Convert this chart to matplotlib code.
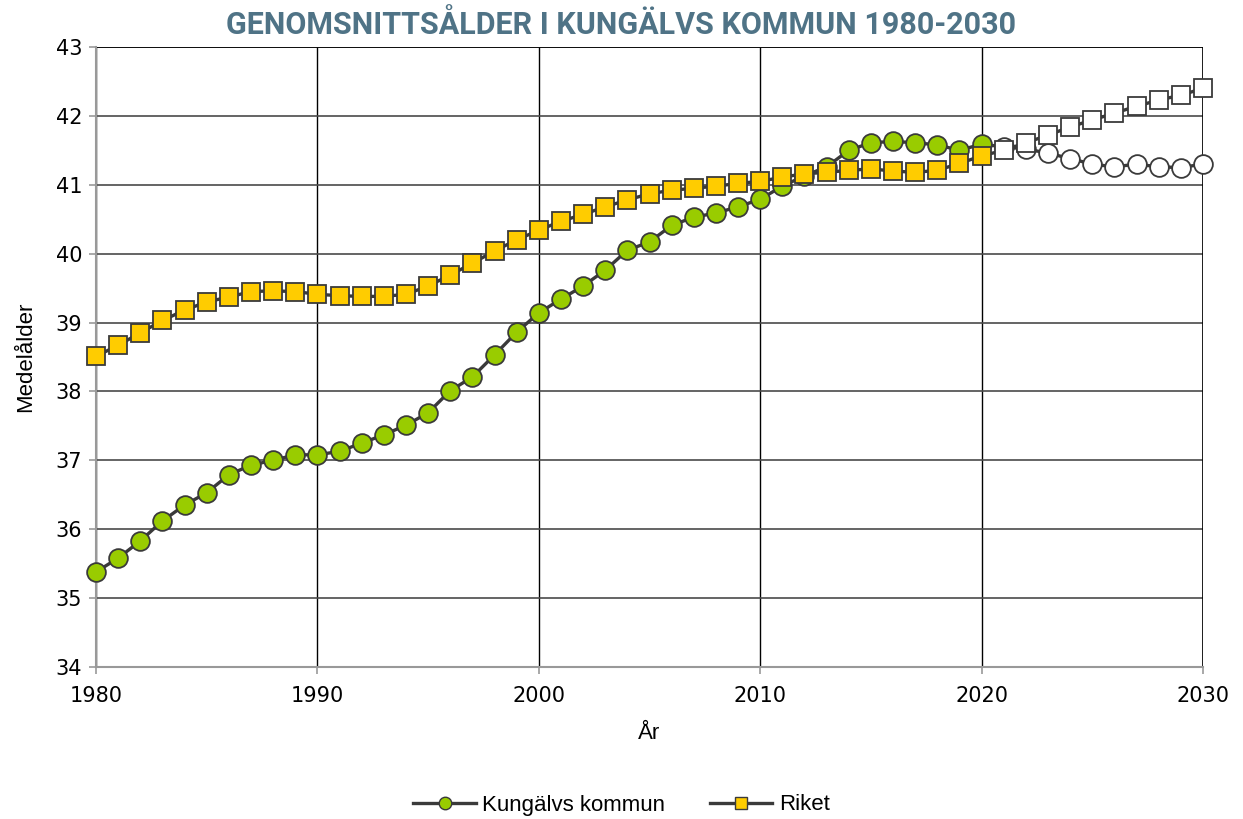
import matplotlib
matplotlib.use("Agg")
import matplotlib.pyplot as plt
from matplotlib.lines import Line2D
import numpy as np

years = list(range(1980, 2031))
last_actual = 2020

kungalv = [35.38, 35.58, 35.83, 36.12, 36.35, 36.53, 36.79, 36.93, 37.00, 37.08,
           37.08, 37.13, 37.25, 37.37, 37.51, 37.69, 38.01, 38.21, 38.53, 38.86,
           39.14, 39.34, 39.53, 39.76, 40.05, 40.17, 40.41, 40.53, 40.59, 40.68,
           40.79, 40.98, 41.13, 41.26, 41.50, 41.61, 41.63, 41.61, 41.58, 41.50,
           41.59, 41.55, 41.52, 41.46, 41.38, 41.30, 41.26, 41.30, 41.26, 41.25,
           41.30]
riket = [38.51, 38.67, 38.85, 39.03, 39.18, 39.30, 39.37, 39.45, 39.46, 39.45,
         39.41, 39.39, 39.38, 39.38, 39.41, 39.53, 39.69, 39.86, 40.04, 40.20,
         40.34, 40.47, 40.57, 40.68, 40.78, 40.87, 40.92, 40.95, 40.98, 41.02,
         41.05, 41.11, 41.16, 41.18, 41.21, 41.23, 41.20, 41.18, 41.21, 41.31,
         41.42, 41.50, 41.61, 41.72, 41.84, 41.94, 42.04, 42.14, 42.23, 42.30,
         42.40]

series_names = ["Kungälvs kommun", "Riket"]
title = "GENOMSNITTSÅLDER I KUNGÄLVS KOMMUN 1980-2030"

plt.rcParams['font.family'] = ['Liberation Sans', 'DejaVu Sans']

fig = plt.figure(figsize=(12.43, 8.19), dpi=100)
ax = fig.add_axes([96/1243, 1 - 667/819, (1203-96)/1243, (667-47)/819])

x = np.array(years)
line_col = '#3a3a3a'
edge_col = '#3a3a3a'
specs = [(kungalv, 'o', '#99cc00'), (riket, 's', '#ffcc00')]
for i, (vals, mk, fc) in enumerate(specs):
    v = np.array(vals)
    z = 3 + i * 2
    ax.plot(x, v, color=line_col, lw=2.4, zorder=z, clip_on=False)
    hist = x <= last_actual
    ax.plot(x[hist], v[hist], linestyle='none', marker=mk, markersize=13.5,
            markerfacecolor=fc, markeredgecolor=edge_col, markeredgewidth=1.3,
            zorder=z + 1, clip_on=False)
    ax.plot(x[~hist], v[~hist], linestyle='none', marker=mk, markersize=13.5,
            markerfacecolor='white', markeredgecolor=edge_col, markeredgewidth=1.3,
            zorder=z + 1, clip_on=False)

ax.set_xlim(1980, 2030)
ax.set_ylim(34, 43)
ax.set_xticks(range(1980, 2031, 10))
ax.set_yticks(range(34, 44))
ax.xaxis.grid(True, color='#000000', lw=1.0)
ax.yaxis.grid(True, color='#4a4a4a', lw=1.2)
ax.set_axisbelow(True)
for s in ['top', 'right']:
    ax.spines[s].set_visible(False)
for s in ['left', 'bottom']:
    ax.spines[s].set_color('#999999')
    ax.spines[s].set_linewidth(1.5)
ax.axvline(2030, color='black', lw=1.2, zorder=1)
ax.axhline(43, color='black', lw=1.2, zorder=1)
ax.tick_params(axis='both', length=5, width=1.2, color='#999999')
for lab in ax.get_xticklabels() + ax.get_yticklabels():
    lab.set_family('DejaVu Sans')
    lab.set_fontsize(15)
ax.tick_params(axis='y', pad=5)
ax.tick_params(axis='x', pad=9)

ax.set_ylabel("Medelålder", fontsize=16, labelpad=14)
ax.set_xlabel("År", fontsize=16, labelpad=12)

fig.text(0.5, 0.969, title, ha='center', va='center', fontsize=22, fontweight='bold',
         color='#4f7386', family=['Roboto', 'DejaVu Sans'])

handles = [Line2D([0], [0], color=line_col, lw=2.4, marker='o', markersize=9,
                  markerfacecolor='#99cc00', markeredgecolor=edge_col),
           Line2D([0], [0], color=line_col, lw=2.4, marker='s', markersize=9,
                  markerfacecolor='#ffcc00', markeredgecolor=edge_col)]
fig.legend(handles, series_names, loc='center', bbox_to_anchor=(0.5, 1 - 805/819),
           ncol=2, frameon=False, fontsize=16, handlelength=2.8, columnspacing=2.0,
           handletextpad=0.3)

fig.savefig("out.png", dpi=100)
